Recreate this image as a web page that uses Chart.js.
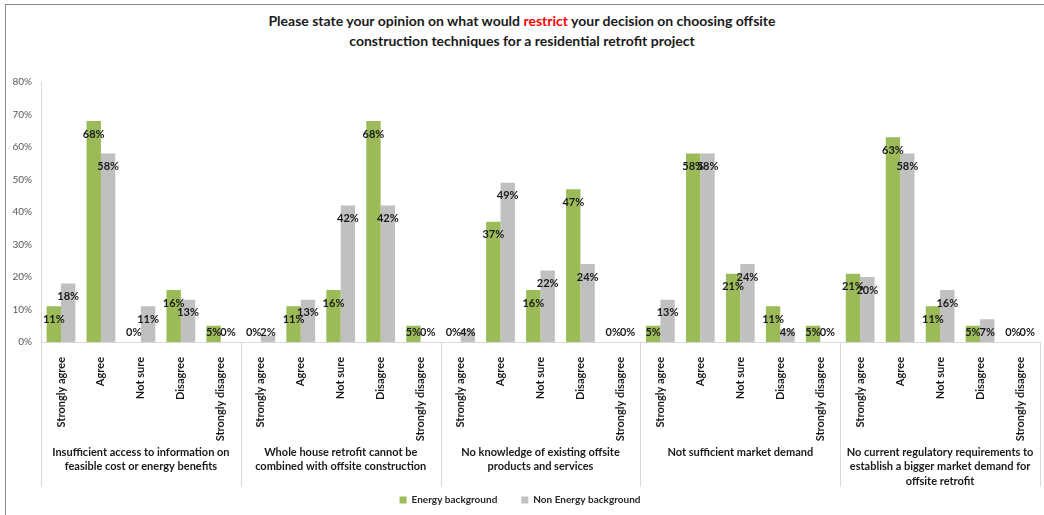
<!DOCTYPE html>
<html>
<head>
<meta charset="utf-8">
<script src="https://cdn.jsdelivr.net/npm/chart.js@4.4.0/dist/chart.umd.min.js"></script>
<style>
  html, body { margin: 0; padding: 0; background: #fff; }
  body { width: 1044px; height: 515px; position: relative; overflow: hidden; font-family: Lato, sans-serif; }
  .frame { position: absolute; left: 5px; top: 4px; width: 1100px; height: 600px; border: 1px solid #8a8a8a; }
  .title { position: absolute; left: 0; top: 11px; width: 1044px; text-align: center; font-weight: bold; font-size: 14px; line-height: 20px; color: #1a1a1a; }
  .title span { color: #ff0000; }
  canvas { position: absolute; left: 0; top: 0; }
</style>
</head>
<body>
<div class="frame"></div>
<div class="title">Please state your opinion on what would <span>restrict</span> your decision on choosing offsite<br>construction techniques for a residential retrofit project</div>
<canvas id="chart" width="1044" height="515"></canvas>
<script>
const responses = ['Strongly agree', 'Agree', 'Not sure', 'Disagree', 'Strongly disagree'];
const groups = [
  ['Insufficient access to information on', 'feasible cost or energy benefits'],
  ['Whole house retrofit cannot be', 'combined with offsite construction'],
  ['No knowledge of existing offsite', 'products and services'],
  ['Not sufficient market demand'],
  ['No current regulatory requirements to', 'establish a bigger market demand for', 'offsite retrofit']
];
const energy    = [11, 68, 0, 16, 5,   0, 11, 16, 68, 5,   0, 37, 16, 47, 0,   5, 58, 21, 11, 5,   21, 63, 11, 5, 0];
const nonEnergy = [18, 58, 11, 13, 0,  2, 13, 42, 42, 0,   4, 49, 22, 24, 0,   13, 58, 24, 4, 0,   20, 58, 16, 7, 0];
const yTicks = [0, 10, 20, 30, 40, 50, 60, 70, 80];

const labels = groups.flatMap(() => responses);
const axisGrey = '#d9d9d9';

// value labels on the bars, group captions and separators under the axis
const annotate = {
  id: 'annotate',
  afterDatasetsDraw(chart) {
    const { ctx, scales: { y } } = chart;
    const base = y.getPixelForValue(0);
    ctx.save();
    ctx.font = 'bold 11px Lato';
    ctx.fillStyle = '#1a1a1a';
    ctx.textAlign = 'center';
    ctx.textBaseline = 'middle';
    chart.data.datasets.forEach((ds, i) => {
      chart.getDatasetMeta(i).data.forEach((bar, j) => {
        const ty = Math.min(bar.y + 13, base - 10);
        ctx.fillText(ds.data[j] + '%', bar.x, ty);
      });
    });
    ctx.restore();
  },
  afterDraw(chart) {
    const { ctx, scales: { x, y } } = chart;
    const top = y.getPixelForValue(0);
    ctx.save();
    ctx.strokeStyle = axisGrey;
    ctx.lineWidth = 1;
    for (let g = 0; g <= groups.length; g++) {
      const px = Math.round(x.getPixelForValue(g * responses.length - 0.5)) + 0.5;
      ctx.beginPath();
      ctx.moveTo(px, top);
      ctx.lineTo(px, top + 145);
      ctx.stroke();
    }
    ctx.font = 'bold 11px Lato';
    ctx.fillStyle = '#1a1a1a';
    ctx.textAlign = 'center';
    ctx.textBaseline = 'middle';
    groups.forEach((lines, g) => {
      const cx = x.getPixelForValue(g * responses.length + 2);
      lines.forEach((t, k) => ctx.fillText(t, cx, top + 110 + k * 14.5));
    });
    ctx.restore();
  }
};

new Chart(document.getElementById('chart'), {
  type: 'bar',
  data: {
    labels: labels,
    datasets: [
      {
        label: 'Energy background',
        data: energy,
        backgroundColor: '#9bbb59',
        barPercentage: 1,
        categoryPercentage: 0.72
      },
      {
        label: 'Non Energy background',
        data: nonEnergy,
        backgroundColor: '#c0c0c0',
        barPercentage: 1,
        categoryPercentage: 0.72
      }
    ]
  },
  options: {
    responsive: false,
    animation: false,
    layout: { padding: { top: 82, right: 4, left: 0, bottom: 0 } },
    plugins: {
      title: { display: false },
      tooltip: { enabled: false },
      legend: {
        position: 'bottom',
        labels: {
          boxWidth: 7,
          boxHeight: 7,
          padding: 24,
          color: '#262626',
          font: { family: 'Lato', size: 10, weight: 'bold' }
        }
      }
    },
    scales: {
      x: {
        grid: { display: false },
        border: { color: axisGrey },
        ticks: {
          autoSkip: false,
          minRotation: 90,
          maxRotation: 90,
          padding: 7,
          color: '#1a1a1a',
          font: { family: 'Lato', size: 11, weight: 'bold' }
        },
        afterFit(scale) { scale.height = 129; }
      },
      y: {
        min: 0,
        max: 80,
        afterBuildTicks(scale) { scale.ticks = yTicks.map(v => ({ value: v })); },
        grid: { display: false, drawTicks: false },
        border: { color: axisGrey },
        ticks: {
          padding: 9,
          color: '#595959',
          font: { family: 'Lato', size: 10 },
          callback: v => v + '%'
        },
        afterFit(scale) { scale.width = 41; }
      }
    }
  },
  plugins: [annotate]
});
</script>
</body>
</html>
